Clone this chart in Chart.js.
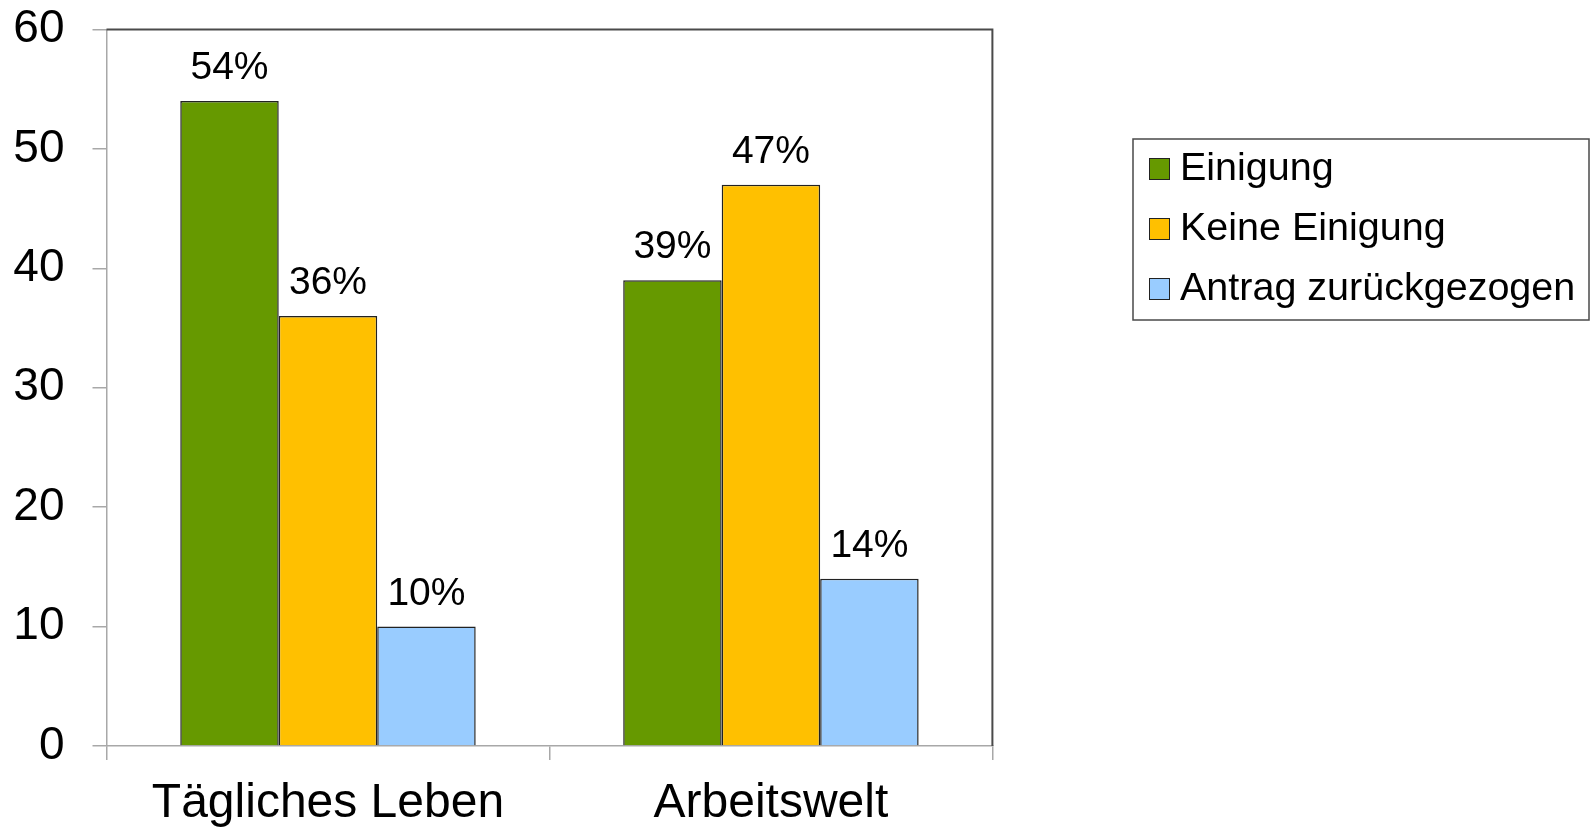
<!DOCTYPE html>
<html>
<head>
<meta charset="utf-8">
<script src="https://cdn.jsdelivr.net/npm/chart.js@4/dist/chart.umd.min.js"></script>
<style>
  html, body { margin: 0; padding: 0; background: #fff; }
  #wrap { width: 1591px; height: 828px; position: relative; }
</style>
</head>
<body>
<div id="wrap"><canvas id="barChart"></canvas></div>
<script>
const categories = ['Tägliches Leben', 'Arbeitswelt'];
const seriesNames = ['Einigung', 'Keine Einigung', 'Antrag zurückgezogen'];
const einigung = [54, 39];
const keineEinigung = [36, 47];
const zurueckgezogen = [10, 14];
const yTicks = [0, 10, 20, 30, 40, 50, 60];

const colors = ['#669900', '#FFC000', '#99CCFF'];
const axisGray = '#a8a8a8';
const frameGray = '#4a4a4a';

Chart.defaults.font.family = "'Liberation Sans', Arial, sans-serif";
Chart.defaults.color = '#000';

// top + right frame of the plot area
const framePlugin = {
  id: 'frame',
  afterDraw(chart) {
    const { ctx, chartArea: a } = chart;
    ctx.save();
    ctx.strokeStyle = frameGray;
    ctx.lineWidth = 2;
    ctx.beginPath();
    ctx.moveTo(a.left, a.top);
    ctx.lineTo(a.right, a.top);
    ctx.lineTo(a.right, a.bottom);
    ctx.stroke();
    ctx.restore();
  }
};

// percent labels above the bars
const valueLabels = {
  id: 'valueLabels',
  afterDatasetsDraw(chart) {
    const ctx = chart.ctx;
    ctx.save();
    ctx.font = "39px 'Liberation Sans', Arial, sans-serif";
    ctx.fillStyle = '#000';
    ctx.textAlign = 'center';
    ctx.textBaseline = 'alphabetic';
    chart.data.datasets.forEach((ds, i) => {
      chart.getDatasetMeta(i).data.forEach((bar, j) => {
        ctx.fillText(ds.data[j] + '%', bar.x, bar.y - 22);
      });
    });
    ctx.restore();
  }
};

// boxed legend on the right
const boxLegend = {
  id: 'boxLegend',
  afterDraw(chart) {
    const ctx = chart.ctx;
    const left = 1133, top = 139, right = 1589, bottom = 320;
    ctx.save();
    ctx.strokeStyle = frameGray;
    ctx.lineWidth = 1.5;
    ctx.strokeRect(left, top, right - left, bottom - top);
    ctx.font = "39.5px 'Liberation Sans', Arial, sans-serif";
    ctx.textAlign = 'left';
    ctx.textBaseline = 'alphabetic';
    chart.data.datasets.forEach((ds, i) => {
      const sy = 158 + i * 60;
      ctx.fillStyle = ds.backgroundColor;
      ctx.fillRect(1149, sy, 20, 21);
      ctx.strokeStyle = '#222';
      ctx.lineWidth = 1;
      ctx.strokeRect(1149.5, sy + 0.5, 20, 21);
      ctx.fillStyle = '#000';
      ctx.fillText(ds.label, 1180, sy + 21.5);
    });
    ctx.restore();
  }
};

const ctx = document.getElementById('barChart');
const barChart = new Chart(ctx, {
  type: 'bar',
  data: {
    labels: categories,
    datasets: [
      { label: seriesNames[0], data: einigung, backgroundColor: colors[0] },
      { label: seriesNames[1], data: keineEinigung, backgroundColor: colors[1] },
      { label: seriesNames[2], data: zurueckgezogen, backgroundColor: colors[2] }
    ].map(ds => Object.assign(ds, {
      borderColor: '#222',
      borderWidth: 1.5,
      categoryPercentage: 0.667,
      barPercentage: 1.0
    }))
  },
  options: {
    responsive: true,
    maintainAspectRatio: false,
    animation: false,
    layout: {
      padding: { left: 12, top: 29.4, right: 598.6, bottom: 0 }
    },
    scales: {
      x: {
        offset: true,
        grid: {
          offset: true,
          drawOnChartArea: false,
          tickLength: 14,
          color: axisGray,
          lineWidth: 1.5
        },
        border: { color: axisGray, width: 1.5 },
        ticks: {
          font: { size: 48 },
          padding: 15,
          maxRotation: 0
        },
        afterFit(scale) {
          scale.height = 82;
          scale.paddingLeft = 0;
          scale.paddingRight = 0;
        }
      },
      y: {
        min: 0,
        max: 60,
        afterBuildTicks(scale) { scale.ticks = yTicks.map(v => ({ value: v })); },
        grid: {
          drawOnChartArea: false,
          tickLength: 14,
          color: axisGray,
          lineWidth: 1.5
        },
        border: { color: axisGray, width: 1.5 },
        ticks: {
          font: { size: 46 },
          padding: 28,
          labelOffset: 0
        },
        afterFit(scale) {
          scale.width = 94.5;
          scale.paddingTop = 0;
          scale.paddingBottom = 0;
        }
      }
    },
    plugins: {
      legend: { display: false },
      tooltip: { enabled: false }
    }
  },
  plugins: [framePlugin, valueLabels, boxLegend]
});
</script>
</body>
</html>
